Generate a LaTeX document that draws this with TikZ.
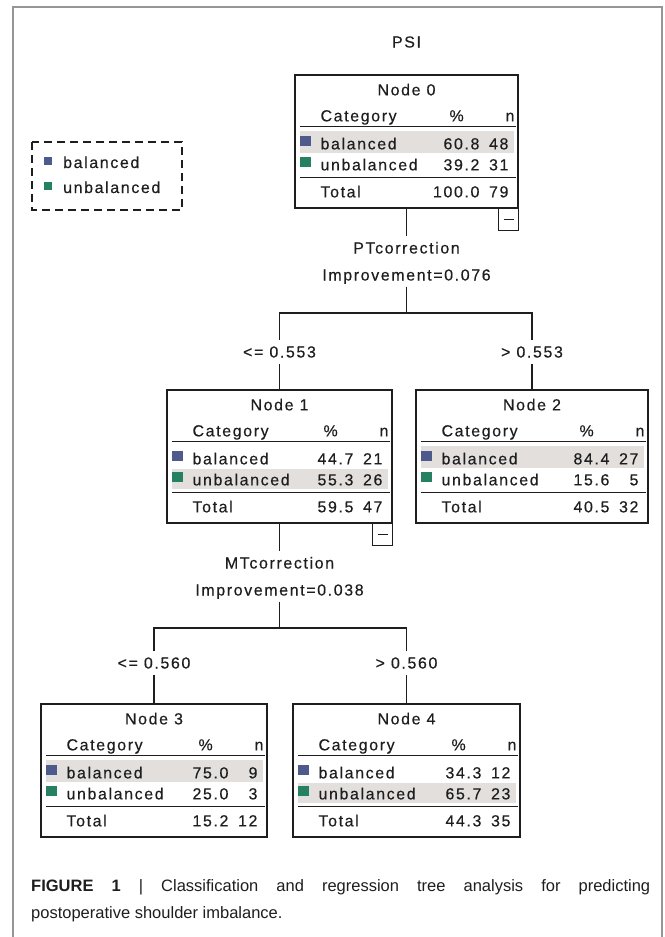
\documentclass[tikz,border=0pt]{standalone}
\usepackage{fontspec}
\setmainfont{Liberation Sans}
\newfontfamily\spssfont[LetterSpace=10, FakeBold=0.35]{Liberation Sans}
\usetikzlibrary{positioning, calc}

\definecolor{balcol}{RGB}{79,90,140}
\definecolor{unbcol}{RGB}{38,128,98}
\definecolor{hlgray}{RGB}{226,223,221}
\definecolor{ink}{RGB}{30,30,30}
\definecolor{framegray}{RGB}{150,150,150}

\begin{document}
\begin{tikzpicture}[x=1pt, y=-1pt,
  tbox/.style={draw=ink, line width=1.3pt, minimum height=133pt, inner sep=0pt},
  txt/.style={font=\spssfont\fontsize{16}{19}\selectfont, text=ink, inner sep=0pt},
  lbl/.style={txt, text height=11pt, text depth=0pt, inner xsep=2pt, inner ysep=6pt},
  rule/.style={draw=ink, line width=1.6pt},
  conn/.style={draw=ink, line width=1.3pt}
]
\useasboundingbox (0,0) rectangle (664,937);

% outer frame
\draw[framegray, line width=1.5pt] (13,937) -- (13,7) -- (662,7) -- (662,937);

% title
\node[txt] (psi) at (406.5,42) {PSI};

% legend
\draw[ink, line width=1.2pt, dash pattern=on 8pt off 5pt] (32,142) rectangle (182,210);
\fill[balcol] (44,157) rectangle (52,165);
\fill[unbcol] (44,182) rectangle (52,190);
\node[txt, anchor=base west] (legbal) at (63,168) {balanced};
\node[txt, anchor=base west] (legunb) at (63,193) {unbalanced};

% tree nodes
\node[tbox, minimum width=223pt] (n0) at (406.5,141.5) {};
\node[tbox, minimum width=225pt] (n1) at (279.5,456.5) {};
\node[tbox, minimum width=232pt] (n2) at (532,456.5) {};
\node[tbox, minimum width=226pt] (n3) at (154,770.5) {};
\node[tbox, minimum width=227pt] (n4) at (406.5,770.5) {};

% node contents
\foreach \nm/\ttl/\bp/\bn/\up/\un/\tp/\tn/\ha/\hb/\mn in {
  n0/Node 0/60.8/48/39.2/31/100.0/79/57/79/1,
  n1/Node 1/44.7/21/55.3/26/59.5/47/80/100/1,
  n2/Node 2/84.4/27/15.6/5/40.5/32/57/79/0,
  n3/Node 3/75.0/9/25.0/3/15.2/12/57/79/0,
  n4/Node 4/34.3/12/65.7/23/44.3/35/80/100/0}
{
  \fill[hlgray] ($(\nm.north west)+(6,\ha)$) rectangle ($(\nm.north east)+(-5,\hb)$);
  \node[txt, anchor=base] at ($(\nm.north)+(0,21)$) {\ttl};
  \node[txt, anchor=base west] at ($(\nm.north west)+(26,47)$) {Category};
  \node[txt, anchor=base] at ($(\nm.north east)+(-62,47)$) {\%};
  \node[txt, anchor=base east] at ($(\nm.north east)+(-4,47)$) {n};
  \draw[rule] ($(\nm.north west)+(6,52)$) -- ($(\nm.north east)+(-3,52)$);
  \fill[balcol] ($(\nm.north west)+(6,62)$) rectangle ($(\nm.north west)+(17,72)$);
  \node[txt, anchor=base west] at ($(\nm.north west)+(26,75)$) {balanced};
  \node[txt, anchor=base east] at ($(\nm.north east)+(-39,75)$) {\bp};
  \node[txt, anchor=base east] at ($(\nm.north east)+(-10,75)$) {\bn};
  \fill[unbcol] ($(\nm.north west)+(6,83)$) rectangle ($(\nm.north west)+(17,93)$);
  \node[txt, anchor=base west] at ($(\nm.north west)+(26,96)$) {unbalanced};
  \node[txt, anchor=base east] at ($(\nm.north east)+(-39,96)$) {\up};
  \node[txt, anchor=base east] at ($(\nm.north east)+(-10,96)$) {\un};
  \draw[rule] ($(\nm.north west)+(6,103)$) -- ($(\nm.north east)+(-3,103)$);
  \node[txt, anchor=base west] at ($(\nm.north west)+(26,123)$) {Total};
  \node[txt, anchor=base east] at ($(\nm.north east)+(-39,123)$) {\tp};
  \node[txt, anchor=base east] at ($(\nm.north east)+(-10,123)$) {\tn};
  % collapse box
  \ifnum\mn=1
    \draw[conn] (\nm.south east) -- ++(0,22) -- ++(-20,0) -- ++(0,-22);
    \draw[conn] ($(\nm.south east)+(-15,11)$) -- ++(10,0);
  \fi
}

% split on PTcorrection
\node[lbl] (s0a) at (406.5,248) {PTcorrection};
\node[lbl] (s0b) at (406.5,275) {Improvement=0.076};
\coordinate (b0) at (406.5,313);
\node[lbl, fill=white] (l1) at (279.5,352) {<= 0.553};
\node[lbl, fill=white] (l2) at (532,352) {> 0.553};

\draw[conn] (n0.south) -- (s0a.north);
\draw[conn] (s0b.south) -- (b0);
\draw[conn] (l1.north) |- (b0) -| (l2.north);
\draw[conn] (l1.south) -- (n1.north);
\draw[conn] (l2.south) -- (n2.north);

% split on MTcorrection
\node[lbl] (s1a) at (279.5,563) {MTcorrection};
\node[lbl] (s1b) at (279.5,590) {Improvement=0.038};
\coordinate (b1) at (279.5,628);
\node[lbl, fill=white] (l3) at (154,663) {<= 0.560};
\node[lbl, fill=white] (l4) at (406.5,663) {> 0.560};

\draw[conn] (n1.south) -- (s1a.north);
\draw[conn] (s1b.south) -- (b1);
\draw[conn] (l3.north) |- (b1) -| (l4.north);
\draw[conn] (l3.south) -- (n3.north);
\draw[conn] (l4.south) -- (n4.north);

% caption
\node[anchor=north west, inner sep=0pt, text width=619pt, align=justify, text=ink,
  font=\fontsize{16.5}{27}\selectfont] (cap) at (31,879)
  {\noindent\textbf{FIGURE\ 1} | Classification and regression tree analysis for predicting\linebreak
   postoperative shoulder imbalance.};

\end{tikzpicture}
\end{document}
